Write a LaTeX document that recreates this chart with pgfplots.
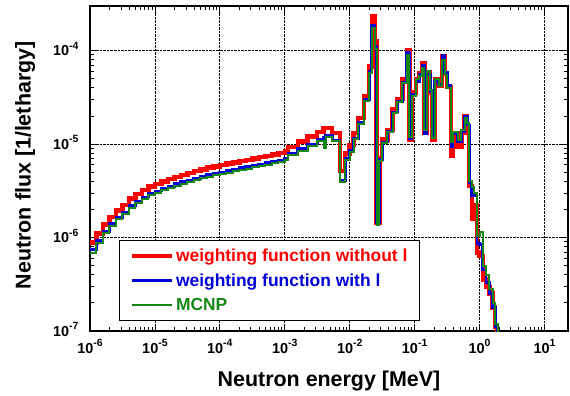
\documentclass[border=0pt]{standalone}
\usepackage{fontspec}
\setmainfont{Liberation Sans}
\usepackage{pgfplots}
\pgfplotsset{compat=1.18}
\definecolor{cred}{RGB}{255,0,0}
\definecolor{cblue}{RGB}{0,0,215}
\definecolor{cgreen}{RGB}{20,135,20}
\newcommand{\tl}[1]{10\raisebox{0.42em}{\fontsize{10.5}{10}\selectfont\bfseries #1}}
\begin{document}
\begin{tikzpicture}
\begin{axis}[
  scale only axis, width=478bp, height=325bp,
  xmode=log, ymode=log,
  xmin=1e-6, xmax=23, ymin=1e-7, ymax=3e-4,
  xtick={1e-6,1e-5,1e-4,1e-3,1e-2,1e-1,1,10},
  xticklabels={\tl{-6},\tl{-5},\tl{-4},\tl{-3},\tl{-2},\tl{-1},\tl{0},\tl{1}},
  ytick={1e-7,1e-6,1e-5,1e-4},
  yticklabels={\tl{-7},\tl{-6},\tl{-5},\tl{-4}},
  ticklabel style={font=\fontsize{14.5}{16}\selectfont\bfseries},
  xticklabel style={anchor=base, yshift=-22bp},
  yticklabel style={anchor=base east, yshift=-5bp, xshift=-8bp},
  xmajorgrids=true, ymajorgrids=true,
  major grid style={draw=black, densely dotted, line width=0.8pt},
  tick align=inside, major tick length=7bp, minor tick length=4bp,
  tick style={black, line width=0.8pt},
  axis line style={line width=1.3pt},
  xlabel={Neutron energy [MeV]},
  ylabel={Neutron flux [1/lethargy]},
  xlabel style={at={(axis description cs:0.5,-0.123)}, anchor=north, inner sep=0pt, font=\fontsize{21.5}{24}\selectfont\bfseries},
  ylabel style={at={(axis description cs:-0.157,0.51)}, anchor=north, rotate=0, inner sep=0pt, font=\fontsize{21.5}{24}\selectfont\bfseries},
  legend image code/.code={\draw[#1] (0bp,0bp) -- (40bp,0bp);},
  legend style={at={(0.0607,0.0308)}, anchor=south west, draw=black, line width=1pt, fill=white,
    font=\fontsize{17.5}{20}\selectfont\bfseries, inner xsep=10bp, inner ysep=6.5bp, row sep=6.5bp,
    nodes={inner sep=2bp}},
  legend cell align=left,
]
\addplot[const plot mark left, cred, line width=4.5bp] coordinates {
(1e-6,8.9e-7)(1.259e-6,1.10e-6)(1.585e-6,1.38e-6)(1.995e-6,1.66e-6)(2.512e-6,1.95e-6)(3.162e-6,2.24e-6)(3.981e-6,2.60e-6)(5.012e-6,2.92e-6)(6.310e-6,3.24e-6)(7.943e-6,3.51e-6)
(1e-5,3.73e-6)(1.259e-5,3.98e-6)(1.585e-5,4.22e-6)(1.995e-5,4.47e-6)(2.512e-5,4.68e-6)(3.162e-5,4.90e-6)(3.981e-5,5.13e-6)(5.012e-5,5.37e-6)(6.310e-5,5.58e-6)(7.943e-5,5.75e-6)
(1e-4,5.94e-6)(1.259e-4,6.17e-6)(1.585e-4,6.38e-6)(1.995e-4,6.61e-6)(2.512e-4,6.79e-6)(3.162e-4,7.03e-6)(3.981e-4,7.24e-6)(5.012e-4,7.50e-6)(6.310e-4,7.76e-6)(7.943e-4,8.04e-6)
(1e-3,8.32e-6)
(1.122e-3,9.33e-6)(1.585e-3,1.07e-5)(2.239e-3,1.20e-5)(3.162e-3,1.35e-5)(3.981e-3,1.48e-5)(5.370e-3,1.32e-5)(7.079e-3,5.13e-6)(8.511e-3,7.94e-6)(1e-2,9.77e-6)(1.148e-2,1.32e-5)(1.349e-2,1.91e-5)(1.660e-2,3.24e-5)(1.995e-2,6.76e-5)(2.188e-2,2.34e-4)(2.455e-2,1.26e-4)(2.600e-2,1.45e-6)(2.851e-2,7.08e-6)(3.162e-2,1.12e-5)(3.802e-2,1.41e-5)(4.571e-2,2.34e-5)(5.370e-2,3.02e-5)(6.457e-2,4.90e-5)(7.586e-2,1.02e-4)(8.318e-2,1.12e-5)(9.120e-2,3.55e-5)(0.1047,4.90e-5)(0.1175,5.75e-5)(0.1318,7.41e-5)(0.1413,1.32e-5)(0.1549,5.89e-5)(0.1738,3.55e-5)(0.1862,1.12e-5)(0.2042,4.90e-5)(0.2344,4.17e-5)(0.2630,8.71e-5)(0.2884,5.75e-5)(0.3162,4.07e-5)(0.3631,7.41e-6)(0.3890,1.32e-5)(0.4571,9.33e-6)(0.5248,1.32e-5)(0.5888,2.00e-5)(0.6457,1.55e-5)(0.6918,3.55e-6)(0.7586,1.58e-6)(0.8318,2.24e-6)(0.9120,6.92e-7)(1.000,6.31e-7)(1.122,3.55e-7)(1.259,2.95e-7)(1.413,2.51e-7)(1.585,1.78e-7)(1.738,1.10e-7)(1.862,5e-8)
};
\addlegendentry{\textcolor{cred}{weighting function without l}}
\addplot[const plot mark left, cblue, line width=2.8bp] coordinates {
(1e-6,7.5e-7)(1.259e-6,9.25e-7)(1.585e-6,1.16e-6)(1.995e-6,1.40e-6)(2.512e-6,1.64e-6)(3.162e-6,1.88e-6)(3.981e-6,2.19e-6)(5.012e-6,2.46e-6)(6.310e-6,2.72e-6)(7.943e-6,2.95e-6)
(1e-5,3.14e-6)(1.259e-5,3.35e-6)(1.585e-5,3.55e-6)(1.995e-5,3.76e-6)(2.512e-5,3.94e-6)(3.162e-5,4.12e-6)(3.981e-5,4.31e-6)(5.012e-5,4.52e-6)(6.310e-5,4.69e-6)(7.943e-5,4.84e-6)
(1e-4,5.00e-6)(1.259e-4,5.19e-6)(1.585e-4,5.37e-6)(1.995e-4,5.56e-6)(2.512e-4,5.71e-6)(3.162e-4,5.91e-6)(3.981e-4,6.09e-6)(5.012e-4,6.31e-6)(6.310e-4,6.53e-6)(7.943e-4,6.76e-6)
(1e-3,7.00e-6)
(1.122e-3,8.0e-6)(1.585e-3,8.9e-6)(2.239e-3,1.0e-5)(3.162e-3,1.12e-5)(3.981e-3,1.17e-5)(4.266e-3,1.23e-5)(5.370e-3,1.10e-5)(7.079e-3,4.1e-6)(8.511e-3,7.0e-6)(1e-2,8.5e-6)(1.148e-2,1.15e-5)(1.349e-2,1.7e-5)(1.660e-2,3.0e-5)(1.995e-2,6.0e-5)(2.188e-2,1.87e-4)(2.455e-2,1.1e-4)(2.600e-2,1.45e-6)(2.851e-2,6.8e-6)(3.162e-2,1.05e-5)(3.802e-2,1.36e-5)(4.571e-2,2.2e-5)(5.370e-2,2.85e-5)(6.457e-2,4.6e-5)(7.586e-2,9.5e-5)(8.318e-2,1.15e-5)(9.120e-2,3.4e-5)(0.1047,4.7e-5)(0.1175,5.6e-5)(0.1318,7.0e-5)(0.1413,1.3e-5)(0.1549,5.6e-5)(0.1738,3.6e-5)(0.1862,1.2e-5)(0.2042,4.7e-5)(0.2344,4.3e-5)(0.2630,8.9e-5)(0.2884,5.8e-5)(0.3162,4.2e-5)(0.3631,9.5e-6)(0.3890,1.30e-5)(0.4571,1.05e-5)(0.5248,1.35e-5)(0.5888,2.0e-5)(0.6457,1.6e-5)(0.6918,3.9e-6)(0.7586,2.8e-6)(0.8318,2.8e-6)(0.9120,8.7e-7)(1.000,8.5e-7)(1.122,4.5e-7)(1.259,3.3e-7)(1.413,2.5e-7)(1.585,1.8e-7)(1.738,1.12e-7)(1.905,5e-8)
};
\addlegendentry{\textcolor{cblue}{weighting function with l}}
\addplot[const plot mark left, cgreen, line width=2bp] coordinates {
(1e-6,6.9e-7)(1.259e-6,8.84e-7)(1.585e-6,1.11e-6)(1.995e-6,1.33e-6)(2.512e-6,1.57e-6)(3.162e-6,1.80e-6)(3.981e-6,2.09e-6)(5.012e-6,2.35e-6)(6.310e-6,2.60e-6)(7.943e-6,2.82e-6)
(1e-5,3.00e-6)(1.259e-5,3.20e-6)(1.585e-5,3.39e-6)(1.995e-5,3.59e-6)(2.512e-5,3.76e-6)(3.162e-5,3.94e-6)(3.981e-5,4.12e-6)(5.012e-5,4.32e-6)(6.310e-5,4.49e-6)(7.943e-5,4.62e-6)
(1e-4,4.78e-6)(1.259e-4,4.96e-6)(1.585e-4,5.13e-6)(1.995e-4,5.31e-6)(2.512e-4,5.46e-6)(3.162e-4,5.65e-6)(3.981e-4,5.82e-6)(5.012e-4,6.03e-6)(6.310e-4,6.24e-6)(7.943e-4,6.46e-6)
(1e-3,6.69e-6)
(1.122e-3,7.6e-6)(1.585e-3,8.5e-6)(2.239e-3,9.6e-6)(3.162e-3,1.08e-5)(3.981e-3,9.1e-6)(4.266e-3,1.20e-5)(5.370e-3,1.07e-5)(7.079e-3,3.95e-6)(8.511e-3,6.8e-6)(1e-2,8.3e-6)(1.148e-2,1.12e-5)(1.349e-2,1.65e-5)(1.660e-2,2.9e-5)(1.995e-2,5.8e-5)(2.188e-2,1.74e-4)(2.455e-2,1.05e-4)(2.600e-2,1.35e-6)(2.851e-2,6.6e-6)(3.162e-2,1.02e-5)(3.802e-2,1.33e-5)(4.571e-2,2.15e-5)(5.370e-2,2.8e-5)(6.457e-2,4.5e-5)(7.586e-2,9.0e-5)(8.318e-2,1.2e-5)(9.120e-2,3.3e-5)(0.1047,5.0e-5)(0.1175,5.3e-5)(0.1318,6.5e-5)(0.1413,1.4e-5)(0.1549,6.0e-5)(0.1738,3.8e-5)(0.1862,1.15e-5)(0.2042,5.0e-5)(0.2344,4.2e-5)(0.2630,8.0e-5)(0.2884,5.5e-5)(0.3162,4.0e-5)(0.3631,1.05e-5)(0.3890,1.35e-5)(0.4571,1.1e-5)(0.5248,1.4e-5)(0.5888,1.9e-5)(0.6457,1.7e-5)(0.6918,4.0e-6)(0.7586,3.5e-6)(0.8318,3.0e-6)(0.9120,1.05e-6)(1.000,1.15e-6)(1.122,5.0e-7)(1.259,4.0e-7)(1.413,2.8e-7)(1.585,2.0e-7)(1.738,1.2e-7)(1.905,5e-8)
};
\addlegendentry{\textcolor{cgreen}{MCNP}}
\end{axis}
\pgfresetboundingbox
\path[use as bounding box] (-90bp,-65bp) rectangle (480bp,331bp);
\end{tikzpicture}
\end{document}
